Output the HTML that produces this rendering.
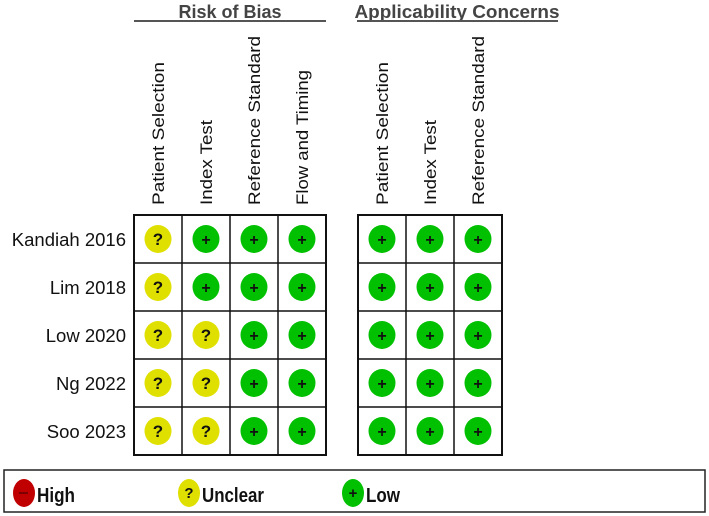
<!DOCTYPE html>
<html><head><meta charset="utf-8"><style>
body{margin:0;background:#fff;}
svg{display:block;font-family:"Liberation Sans",Arial,sans-serif;}
</style></head><body>
<svg id="chart" width="709" height="516" viewBox="0 0 709 516">
<text x="230" y="18" text-anchor="middle" font-size="18" font-weight="bold" fill="#444">Risk of Bias</text>
<line x1="134" y1="21" x2="326" y2="21" stroke="#555" stroke-width="2"/>
<text x="457" y="18" text-anchor="middle" font-size="18" font-weight="bold" fill="#444" textLength="205" lengthAdjust="spacingAndGlyphs">Applicability Concerns</text>
<line x1="357" y1="21" x2="558" y2="21" stroke="#555" stroke-width="2"/>
<g id="grid"></g>
<rect x="4" y="470" width="701" height="42" fill="none" stroke="#222" stroke-width="1.5"/>
<g><ellipse cx="24" cy="493" rx="11" ry="14" fill="#c00000"/><line x1="19" y1="493" x2="28" y2="493" stroke="#600" stroke-width="1.5"/><text x="37" y="502" font-size="20" font-weight="bold" fill="#111" textLength="38" lengthAdjust="spacingAndGlyphs">High</text></g>
<g><ellipse cx="189" cy="493" rx="11" ry="14" fill="#e0e000"/><text x="189" y="498" text-anchor="middle" font-size="15" font-weight="bold" fill="#111">?</text><text x="202" y="502" font-size="20" font-weight="bold" fill="#111" textLength="62" lengthAdjust="spacingAndGlyphs">Unclear</text></g>
<g><ellipse cx="353" cy="493" rx="11" ry="14" fill="#00c000"/><text x="353" y="498" text-anchor="middle" font-size="15" font-weight="bold" fill="#111">+</text><text x="366" y="502" font-size="20" font-weight="bold" fill="#111" textLength="34" lengthAdjust="spacingAndGlyphs">Low</text></g>
</svg>
<script>
const studies=["Kandiah 2016","Lim 2018","Low 2020","Ng 2022","Soo 2023"];
const biasDomains=["Patient Selection","Index Test","Reference Standard","Flow and Timing"];
const applicDomains=["Patient Selection","Index Test","Reference Standard"];
const biasJudgements=[["?","+","+","+"],["?","+","+","+"],["?","?","+","+"],["?","?","+","+"],["?","?","+","+"]];
const applicJudgements=[["+","+","+"],["+","+","+"],["+","+","+"],["+","+","+"],["+","+","+"]];
const NS="http://www.w3.org/2000/svg";
const g=document.getElementById('grid');
const cell=48, top0=215;
const colors={"+":"#00c000","?":"#e0e000","-":"#c00000"};
function mk(t,a){const e=document.createElementNS(NS,t);for(const k in a)e.setAttribute(k,a[k]);g.appendChild(e);return e;}
const labelLen={"Patient Selection":143,"Index Test":85,"Reference Standard":169,"Flow and Timing":135};
studies.forEach((s,i)=>{
  const t=mk('text',{x:126,y:top0+i*cell+cell/2+7,'text-anchor':'end','font-size':18.5,fill:'#111'});
  t.textContent=s;
  
  
});
function block(x0,domains,judg,key){
  domains.forEach((d,j)=>{
    const cx=x0+j*cell+cell/2;
    const t=mk('text',{transform:`translate(${cx+6},205) rotate(-90)`,'font-size':17,fill:'#111',textLength:labelLen[d],lengthAdjust:'spacingAndGlyphs'});
    t.textContent=d;
    
    
  });
  const r=mk('rect',{x:x0,y:top0,width:domains.length*cell,height:studies.length*cell,fill:'none',stroke:'#111','stroke-width':2});
  
  
  for(let j=1;j<domains.length;j++)mk('line',{x1:x0+j*cell,y1:top0,x2:x0+j*cell,y2:top0+studies.length*cell,stroke:'#111','stroke-width':1.5});
  for(let i=1;i<studies.length;i++)mk('line',{x1:x0,y1:top0+i*cell,x2:x0+domains.length*cell,y2:top0+i*cell,stroke:'#111','stroke-width':1.5});
  judg.forEach((row,i)=>row.forEach((v,j)=>{
    const cx=x0+j*cell+cell/2, cy=top0+i*cell+cell/2;
    const c=mk('ellipse',{cx:cx,cy:cy,rx:13.5,ry:14,fill:colors[v]});
    
    
    const t=mk('text',{x:cx,y:cy+6,'text-anchor':'middle','font-size':v==="+"?16:17,'font-weight':'bold',fill:'#111'});
    t.textContent=v==="-"?"–":v;
  }));
}
block(134,biasDomains,biasJudgements,'risk-of-bias');
block(358,applicDomains,applicJudgements,'applicability');
</script>
</body></html>
